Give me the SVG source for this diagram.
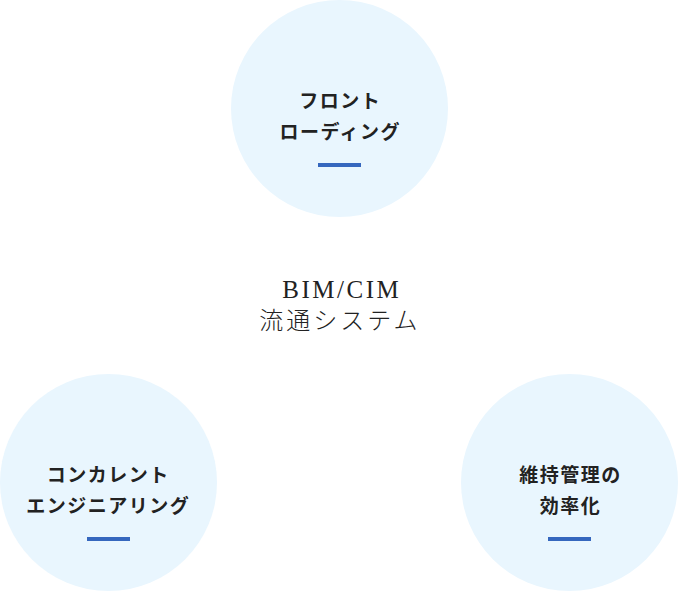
<svg xmlns="http://www.w3.org/2000/svg" width="678" height="591" viewBox="0 0 678 591">
<style>
.c{fill:#e9f6fe}
.t{font-family:"Noto Sans CJK JP","Noto Sans",sans-serif;font-weight:700;font-size:19px;fill:#222;letter-spacing:1.5px;text-anchor:middle}
.b{fill:#3567be}
.m{font-family:"Liberation Serif","Noto Sans CJK JP",serif;font-size:25px;fill:#222;letter-spacing:2.5px;text-anchor:middle}
.mj{font-family:"Noto Sans CJK JP",serif;font-weight:300;font-size:24px;fill:#222;letter-spacing:3px;text-anchor:middle}
</style>
<g id="connectors"></g>
<g id="node-front">
<circle class="c" cx="339.5" cy="108.5" r="108.5"/>
<text class="t" x="340.3" y="108">フロント</text>
<text class="t" x="340.3" y="139">ローディング</text>
<rect class="b" x="318" y="163" width="43" height="4"/>
</g>
<g id="node-concurrent">
<circle class="c" cx="108.5" cy="482.5" r="108.5"/>
<text class="t" x="108.3" y="482">コンカレント</text>
<text class="t" x="108.3" y="513">エンジニアリング</text>
<rect class="b" x="87" y="537" width="43" height="4"/>
</g>
<g id="node-maintenance">
<circle class="c" cx="569.5" cy="482.5" r="108.5"/>
<text class="t" x="570.5" y="482">維持管理の</text>
<text class="t" x="570.5" y="513">効率化</text>
<rect class="b" x="548" y="537" width="43" height="4"/>
</g>
<g id="center">
<text class="m" x="341.8" y="298">BIM/CIM</text>
<text class="mj" x="339.8" y="329">流通システム</text>
</g>
</svg>
